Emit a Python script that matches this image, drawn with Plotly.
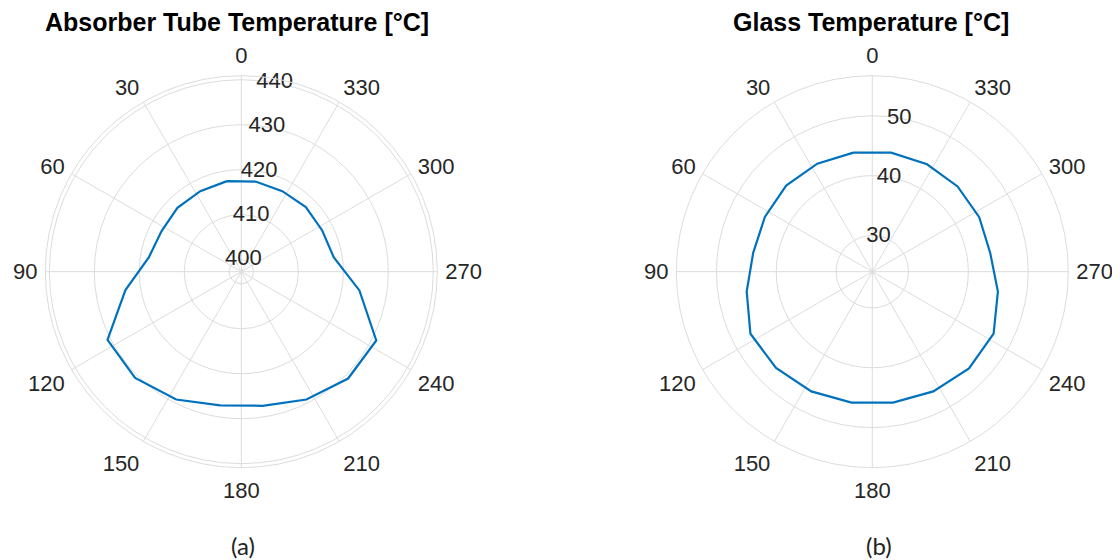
import plotly.graph_objects as go

# angles of the measured points (deg), 18 deg apart
theta_deg = [9, 27, 45, 63, 81, 99, 117, 135, 153, 171,
             189, 207, 225, 243, 261, 279, 297, 315, 333, 351]

absorber_temp = [417.7, 417.4, 417.4, 417.2, 418.1, 423.4, 430.7, 430.7, 429.2, 427.4,
                 427.5, 429.2, 430.9, 431.0, 423.9, 418.1, 417.5, 417.6, 417.4, 417.6]

glass_temp = [44.1, 44.2, 44.3, 44.1, 44.1, 45.2, 46.8, 46.7, 46.4, 46.1,
              46.1, 46.4, 46.8, 46.7, 45.2, 43.9, 44.0, 44.1, 44.1, 44.1]

angle_ticks = [0, 30, 60, 90, 120, 150, 180, 210, 240, 270, 300, 330]
absorber_rticks = [400, 410, 420, 430, 440]
glass_rticks = [30, 40, 50]
absorber_range = [397.3, 440.9]
glass_range = [23.95, 56.7]

titles = ['Absorber Tube Temperature [°C]', 'Glass Temperature [°C]']
sub_labels = ['(a)', '(b)']

line_color = '#0072BD'
grid_color = '#dcdcdc'
text_color = '#262626'
tick_size = 22
title_size = 25
rlabel_theta = 350  # MATLAB style radial labels, a bit right of the top spoke

# page has an 8px body margin, so the figure is 16px smaller than the window
W, H = 1112, 552


def closed(vals):
    return list(vals) + [vals[0]]


fig = go.Figure()

fig.add_trace(go.Scatterpolar(r=closed(absorber_temp), theta=closed(theta_deg), mode='lines',
                              line=dict(color=line_color, width=2.2), subplot='polar', showlegend=False))
fig.add_trace(go.Scatterpolar(r=absorber_rticks, theta=[rlabel_theta] * len(absorber_rticks), mode='text',
                              text=[str(v) for v in absorber_rticks],
                              textfont=dict(size=tick_size, color=text_color, family='Liberation Sans'),
                              subplot='polar', showlegend=False, cliponaxis=False, hoverinfo='skip'))

fig.add_trace(go.Scatterpolar(r=closed(glass_temp), theta=closed(theta_deg), mode='lines',
                              line=dict(color=line_color, width=2.2), subplot='polar2', showlegend=False))
fig.add_trace(go.Scatterpolar(r=glass_rticks, theta=[rlabel_theta] * len(glass_rticks), mode='text',
                              text=[str(v) for v in glass_rticks],
                              textfont=dict(size=tick_size, color=text_color, family='Liberation Sans'),
                              subplot='polar2', showlegend=False, cliponaxis=False, hoverinfo='skip'))


def polar_layout(cx, cy, rad, rrange, rticks):
    # cx, cy, rad in figure pixels (cy from top)
    return dict(
        domain=dict(x=[(cx - rad) / W, (cx + rad) / W],
                    y=[(H - cy - rad) / H, (H - cy + rad) / H]),
        bgcolor='white',
        radialaxis=dict(range=rrange, tickvals=rticks, showticklabels=False, ticks='',
                        showline=False, gridcolor=grid_color, gridwidth=1, angle=80),
        angularaxis=dict(rotation=90, direction='counterclockwise', tickvals=angle_ticks,
                         ticktext=[str(a) for a in angle_ticks],
                         showline=True, linecolor=grid_color, linewidth=1,
                         gridcolor=grid_color, gridwidth=1,
                         ticks='outside', ticklen=3, tickcolor='rgba(0,0,0,0)',
                         tickfont=dict(size=tick_size, color=text_color, family='Liberation Sans')),
    )


fig.update_layout(
    width=W, height=H,
    margin=dict(l=0, r=0, t=0, b=0),
    paper_bgcolor='white',
    polar=polar_layout(233.3, 263.7, 196, absorber_range, absorber_rticks),
    polar2=polar_layout(864.3, 263.7, 196, glass_range, glass_rticks),
)

# titles and (a)/(b) labels
title_x = [229, 863]
sub_x = [235, 871]
for i in range(2):
    fig.add_annotation(xref='paper', yref='paper', x=title_x[i] / W, y=(H - 14) / H,
                       xanchor='center', yanchor='middle', text='<b>' + titles[i] + '</b>',
                       showarrow=False, font=dict(size=title_size, color='black', family='Liberation Sans'))
    fig.add_annotation(xref='paper', yref='paper', x=sub_x[i] / W, y=(H - 537) / H,
                       xanchor='center', yanchor='middle', text=sub_labels[i],
                       showarrow=False, font=dict(size=24, color='#222222', family='Lato'))

fig.write_html('out.html')
